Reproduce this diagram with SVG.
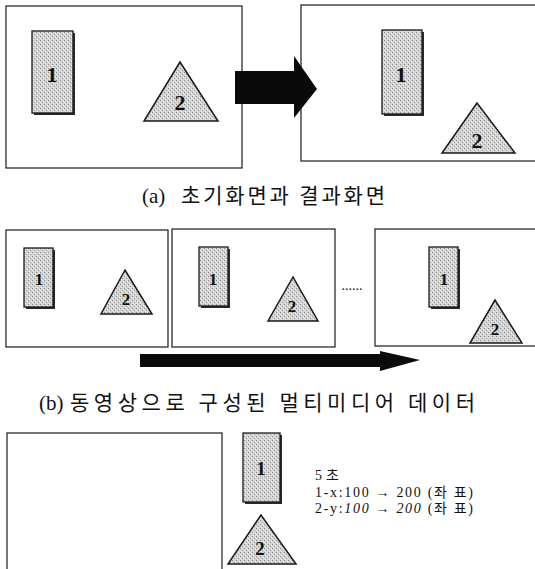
<svg xmlns="http://www.w3.org/2000/svg" width="535" height="569" viewBox="0 0 535 569">
<defs>
<pattern id="stip" width="4" height="4" patternUnits="userSpaceOnUse">
<rect width="4" height="4" fill="#d4d4d4"/>
<rect x="0" y="0" width="1" height="1" fill="#8a8a8a"/>
<rect x="2" y="2" width="1" height="1" fill="#9a9a9a"/>
<rect x="3" y="1" width="1" height="1" fill="#eeeeee"/>
<rect x="1" y="3" width="1" height="1" fill="#eeeeee"/>
</pattern>
</defs>
<style>
.frame{fill:#fff;stroke:#1a1a1a;stroke-width:1.2}
.shadow{fill:#2a2a2a}
.box{fill:url(#stip);stroke:#1a1a1a;stroke-width:1.3}
.tri{fill:url(#stip);stroke:#1a1a1a;stroke-width:1.5;stroke-linejoin:miter}
.num{font-family:"Liberation Serif",serif;font-weight:bold;fill:#111;text-anchor:middle}
.cap{font-family:"Liberation Serif","Noto Sans CJK KR",serif;font-size:21px;fill:#111}
.hg{font-family:"Noto Sans CJK KR",sans-serif;font-size:21px;fill:#111}
.note{font-family:"Liberation Serif","Noto Sans CJK KR",serif;font-size:14px;fill:#111}
.arrow{fill:#0a0a0a}
</style>

<!-- (a) -->
<g id="a-start-frame"><rect class="frame" x="6" y="6" width="236" height="162"/></g>
<g id="a-start-rect1">
<rect class="shadow" x="34" y="33" width="41" height="82"/>
<rect class="box" x="32" y="31" width="41" height="82"/>
<text class="num" x="52" y="82" font-size="22">1</text>
</g>
<g id="a-start-tri2">
<polygon class="tri" points="180,62 144,121 218,121"/>
<text class="num" x="180" y="110" font-size="22">2</text>
</g>
<g id="a-end-frame"><rect class="frame" x="301" y="5" width="240" height="156"/></g>
<g id="a-end-rect1">
<rect class="shadow" x="384" y="32" width="40" height="84"/>
<rect class="box" x="382" y="30" width="40" height="84"/>
<text class="num" x="401" y="82" font-size="22">1</text>
</g>
<g id="a-end-tri2">
<polygon class="tri" points="477,103 442,153 515,153"/>
<text class="num" x="477" y="148" font-size="22">2</text>
</g>
<g id="caption-a">
<text class="cap" x="142" y="203">(a)</text>
<text class="hg" x="181" y="203" textLength="204" lengthAdjust="spacing">초기화면과 결과화면</text>
</g>

<!-- (b) -->
<g id="b-frame1"><rect class="frame" x="6" y="230" width="162" height="117"/></g>
<g id="b-frame1-rect1">
<rect class="shadow" x="26" y="250" width="29" height="59"/>
<rect class="box" x="24" y="248" width="29" height="59"/>
<text class="num" x="39" y="285" font-size="17">1</text>
</g>
<g id="b-frame1-tri2">
<polygon class="tri" points="125,270 101,314 152,314"/>
<text class="num" x="126" y="305" font-size="17">2</text>
</g>
<g id="b-frame2"><rect class="frame" x="172" y="229" width="163" height="118"/></g>
<g id="b-frame2-rect1">
<rect class="shadow" x="201" y="249" width="29" height="59"/>
<rect class="box" x="199" y="247" width="29" height="59"/>
<text class="num" x="213" y="285" font-size="17">1</text>
</g>
<g id="b-frame2-tri2">
<polygon class="tri" points="293,277 268,321 318,321"/>
<text class="num" x="292" y="312" font-size="17">2</text>
</g>
<g id="b-dots"><text x="352" y="290" font-family="Liberation Serif,serif" font-size="14" text-anchor="middle" fill="#111">......</text></g>
<g id="b-frame3"><rect class="frame" x="375" y="229" width="166" height="117"/></g>
<g id="b-frame3-rect1">
<rect class="shadow" x="431" y="249" width="29" height="60"/>
<rect class="box" x="429" y="247" width="29" height="60"/>
<text class="num" x="444" y="285" font-size="17">1</text>
</g>
<g id="b-frame3-tri2">
<polygon class="tri" points="495,300 470,343 522,343"/>
<text class="num" x="495" y="335" font-size="17">2</text>
</g>
<g id="caption-b">
<text class="cap" x="39" y="410">(b)</text>
<text class="hg" x="70" y="410" textLength="405" lengthAdjust="spacing">동영상으로 구성된 멀티미디어 데이터</text>
</g>

<!-- (c) -->
<g id="c-frame"><rect class="frame" x="7" y="433" width="215" height="150"/></g>
<g id="c-rect1">
<rect class="shadow" x="245" y="435" width="37" height="69"/>
<rect class="box" x="243" y="433" width="37" height="69"/>
<text class="num" x="261" y="475" font-size="19">1</text>
</g>
<g id="c-tri2">
<polygon class="tri" points="261,515 228,564 296,564"/>
<text class="num" x="260" y="555" font-size="19">2</text>
</g>
<g id="c-note">
<text class="note" x="315" y="480">5 <tspan x="326">초</tspan></text>
<text class="note" x="315" y="497" textLength="158" lengthAdjust="spacing">1-x:100 → 200 (좌 표)</text>
<text class="note" x="315" y="513" textLength="158" lengthAdjust="spacing">2-y:<tspan font-style="italic">100</tspan> → <tspan font-style="italic">200</tspan> (좌 표)</text>
</g>

<!-- connectors -->
<g id="connectors">
<polygon class="arrow" points="235,71 294,71 294,56 317,89 294,118 294,104 235,104"/>
<polygon class="arrow" points="140,354 380,354 380,351 420,360 380,371 380,367 140,367"/>
</g>
</svg>
